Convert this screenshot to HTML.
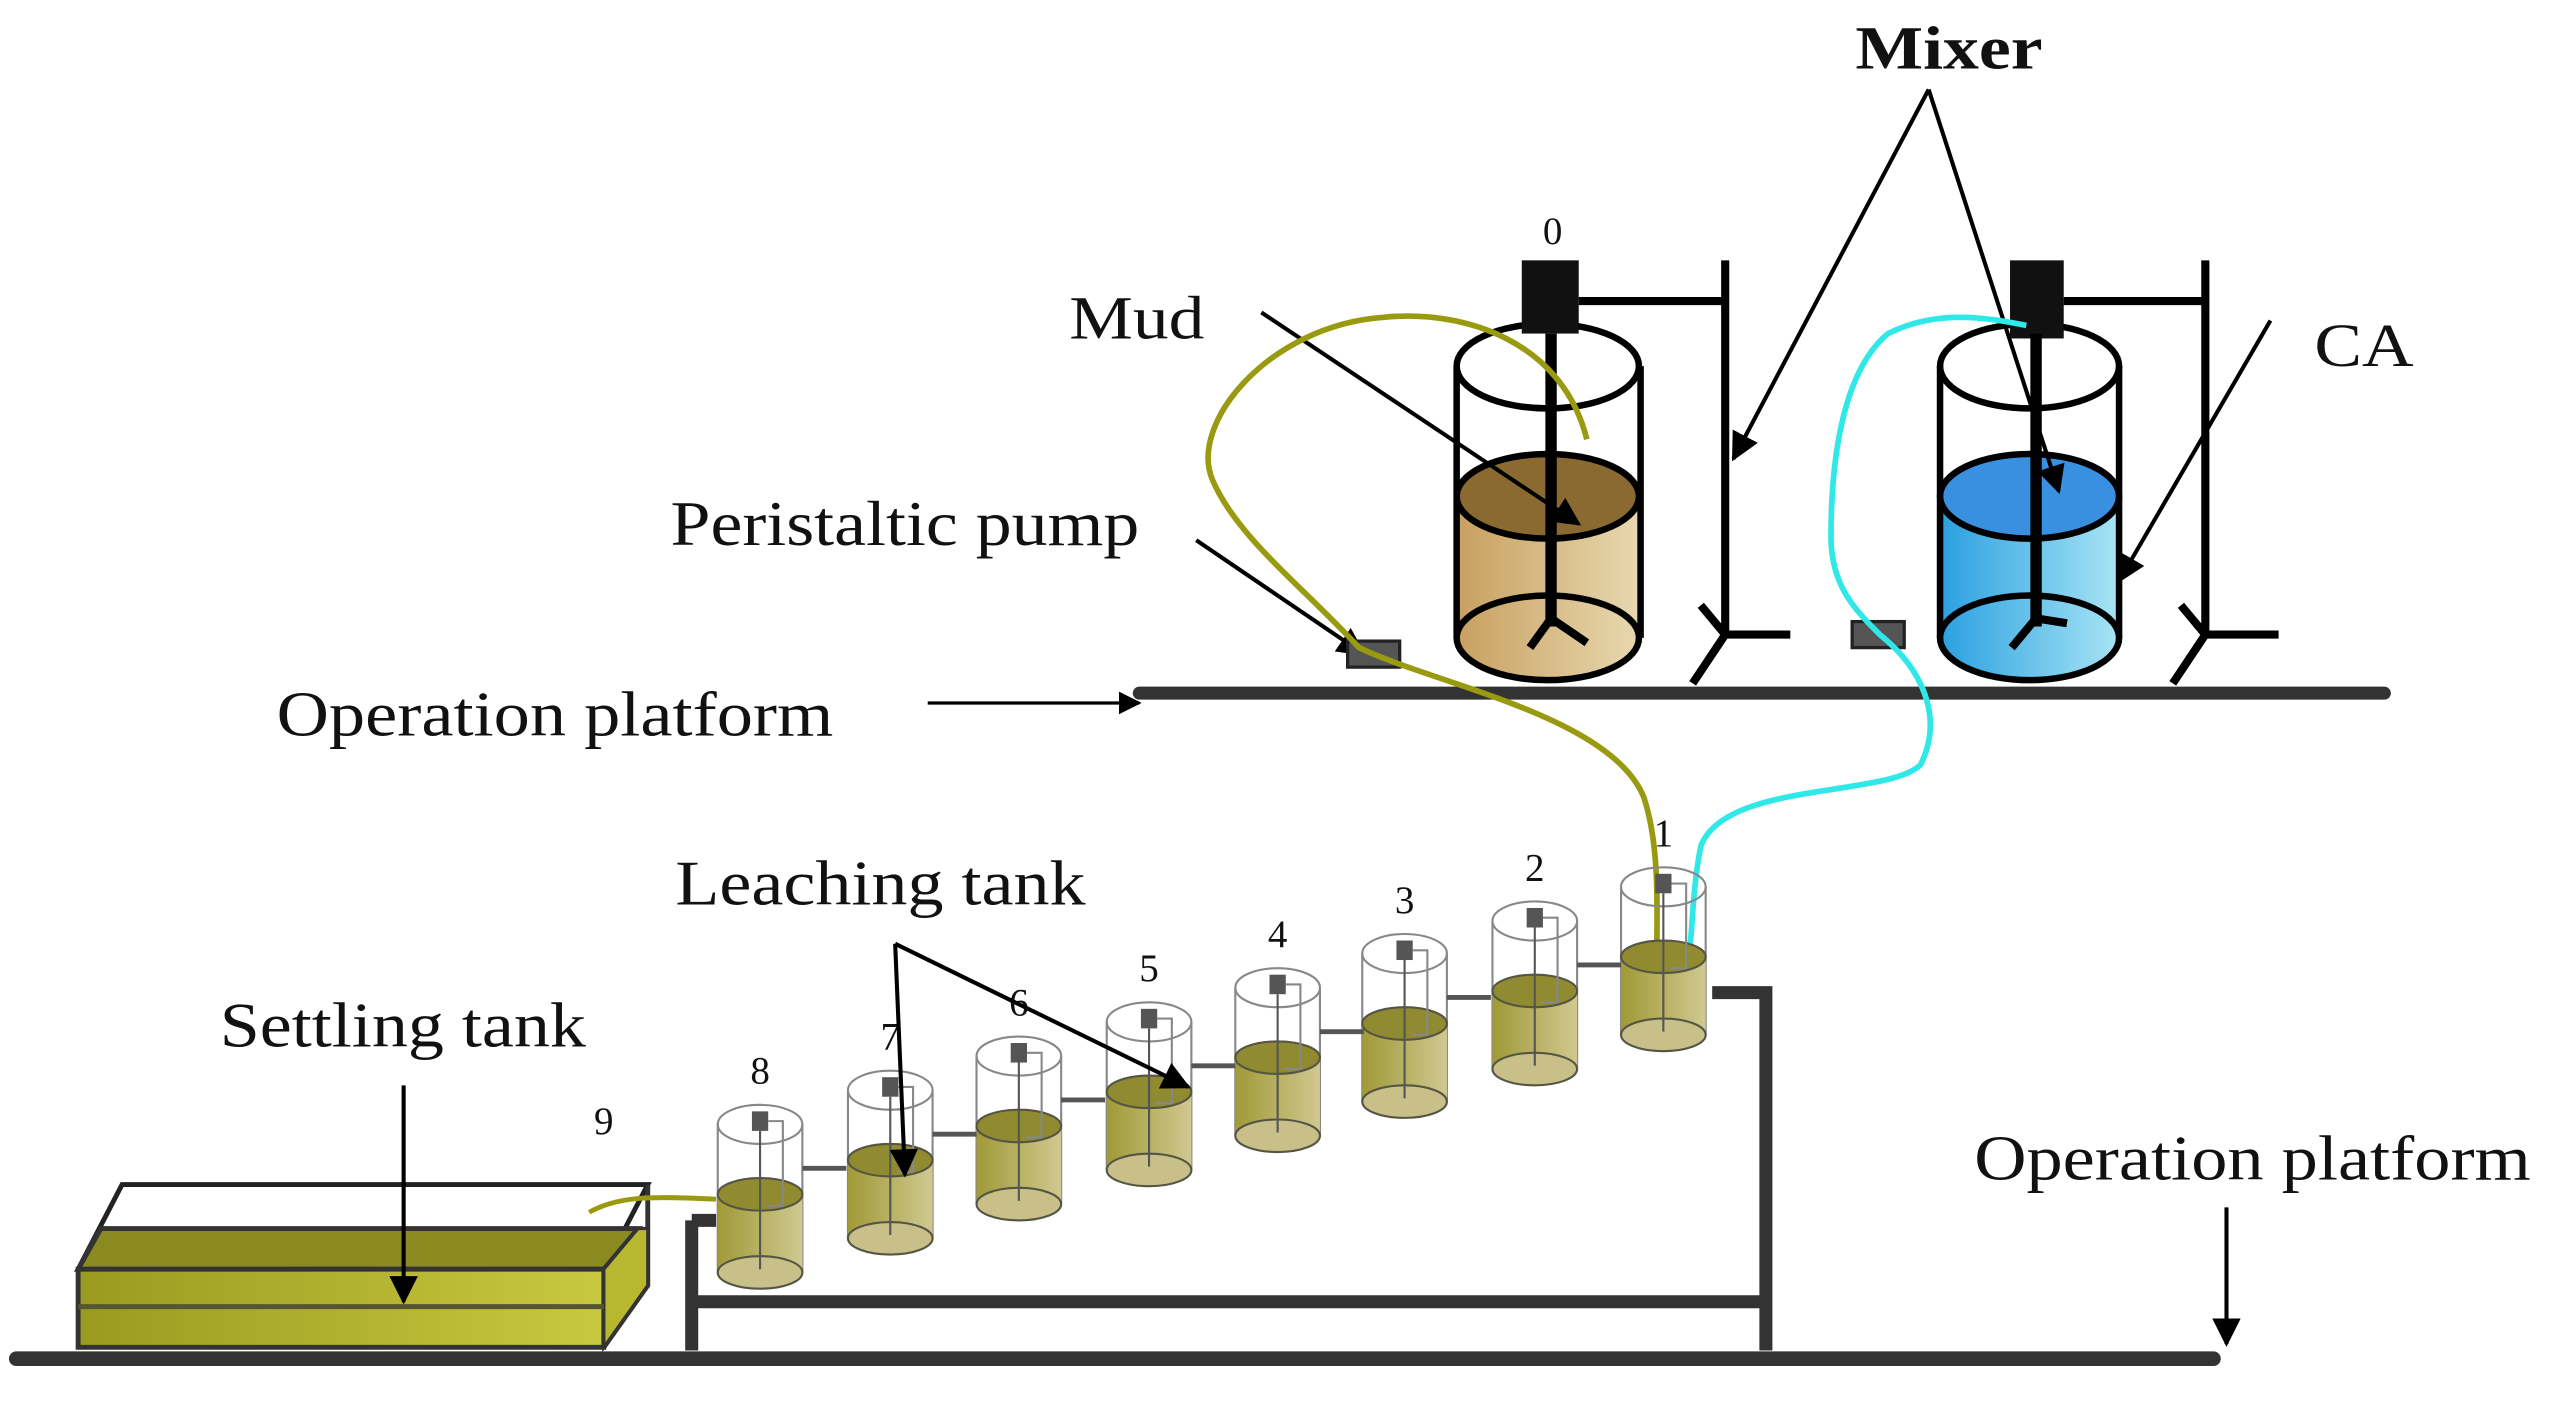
<!DOCTYPE html>
<html><head><meta charset="utf-8"><style>
html,body{margin:0;padding:0;background:#fff;}
svg{display:block;}
text{font-family:"Liberation Serif",serif;fill:#111;}
</style></head><body>
<svg width="2552" height="1401" viewBox="0 0 1568 861" preserveAspectRatio="none" xmlns="http://www.w3.org/2000/svg">
<defs>
<marker id="ah" viewBox="0 0 10 10" refX="9" refY="5" markerWidth="7" markerHeight="7" orient="auto-start-reverse"><path d="M0,0 L10,5 L0,10 z" fill="#000"/></marker>
<linearGradient id="mud" x1="0" x2="1"><stop offset="0" stop-color="#c8a060"/><stop offset="1" stop-color="#e8d8b0"/></linearGradient>
<linearGradient id="ca" x1="0" x2="1"><stop offset="0" stop-color="#2aa0e0"/><stop offset="1" stop-color="#a8e4f4"/></linearGradient>
<linearGradient id="ol" x1="0" x2="1"><stop offset="0" stop-color="#a09a38"/><stop offset="1" stop-color="#d0c890"/></linearGradient>
<linearGradient id="st" x1="0" x2="1"><stop offset="0" stop-color="#9a9a20"/><stop offset="1" stop-color="#c8c840"/></linearGradient>
</defs>

<text x="1140" y="42" font-size="38" font-weight="bold" textLength="115" lengthAdjust="spacingAndGlyphs">Mixer</text>
<text x="948" y="150" font-size="24">0</text>
<text x="657" y="208" font-size="38" textLength="83" lengthAdjust="spacingAndGlyphs">Mud</text>
<text x="1422" y="225" font-size="38" textLength="61" lengthAdjust="spacingAndGlyphs">CA</text>
<text x="412" y="335" font-size="39" textLength="288" lengthAdjust="spacingAndGlyphs">Peristaltic pump</text>
<text x="170" y="452" font-size="39" textLength="342" lengthAdjust="spacingAndGlyphs">Operation platform</text>
<text x="415" y="556" font-size="39" textLength="252" lengthAdjust="spacingAndGlyphs">Leaching tank</text>
<text x="135" y="643" font-size="39" textLength="225" lengthAdjust="spacingAndGlyphs">Settling tank</text>
<text x="1213" y="725" font-size="39" textLength="342" lengthAdjust="spacingAndGlyphs">Operation platform</text>
<text x="365" y="697" font-size="24">9</text>

<line x1="700" y1="426" x2="1465" y2="426" stroke="#333" stroke-width="8" stroke-linecap="round"/>
<line x1="570" y1="432" x2="700" y2="432" stroke="#000" stroke-width="2" marker-end="url(#ah)"/>

<rect x="895" y="305" width="113" height="87" fill="url(#mud)"/>
<ellipse cx="951" cy="392" rx="56" ry="26" fill="url(#mud)" stroke="#000" stroke-width="4"/>
<ellipse cx="951" cy="305" rx="56" ry="26" fill="#8a6a30" stroke="#000" stroke-width="4"/>
<ellipse cx="951" cy="225" rx="56" ry="26" fill="none" stroke="#000" stroke-width="4"/>
<line x1="895" y1="225" x2="895" y2="392" stroke="#000" stroke-width="4"/>
<line x1="1008" y1="225" x2="1008" y2="392" stroke="#000" stroke-width="4"/>
<rect x="935" y="160" width="35" height="45" fill="#111"/>
<line x1="953" y1="205" x2="953" y2="385" stroke="#000" stroke-width="7"/>
<path d="M940,398 L953,380 L975,395 M953,380 L953,370" stroke="#000" stroke-width="5" fill="none"/>
<path d="M970,185 H1060 M1060,160 V390 M1060,390 H1100 M1060,390 L1040,420 M1045,372 L1060,390" stroke="#000" stroke-width="5" fill="none"/>

<rect x="1192" y="305" width="110" height="87" fill="url(#ca)"/>
<ellipse cx="1247" cy="392" rx="55" ry="26" fill="url(#ca)" stroke="#000" stroke-width="4"/>
<ellipse cx="1247" cy="305" rx="55" ry="26" fill="#3a90e0" stroke="#000" stroke-width="4"/>
<ellipse cx="1247" cy="225" rx="55" ry="26" fill="none" stroke="#000" stroke-width="4"/>
<line x1="1192" y1="225" x2="1192" y2="392" stroke="#000" stroke-width="4"/>
<line x1="1302" y1="225" x2="1302" y2="392" stroke="#000" stroke-width="4"/>
<rect x="1235" y="160" width="33" height="48" fill="#111"/>
<line x1="1251" y1="205" x2="1251" y2="385" stroke="#000" stroke-width="7"/>
<path d="M1236,398 L1251,380 L1270,383" stroke="#000" stroke-width="5" fill="none"/>
<path d="M1268,185 H1355 M1355,160 V390 M1355,390 H1400 M1355,390 L1335,420 M1340,372 L1355,390" stroke="#000" stroke-width="5" fill="none"/>

<line x1="1185" y1="55" x2="1065" y2="282" stroke="#000" stroke-width="2.5" marker-end="url(#ah)"/>
<line x1="1185" y1="55" x2="1265" y2="302" stroke="#000" stroke-width="2.5" marker-end="url(#ah)"/>
<line x1="775" y1="192" x2="970" y2="322" stroke="#000" stroke-width="2.5" marker-end="url(#ah)"/>
<line x1="1395" y1="197" x2="1302" y2="357" stroke="#000" stroke-width="2.5" marker-end="url(#ah)"/>
<line x1="735" y1="332" x2="838" y2="402" stroke="#000" stroke-width="2.5" marker-end="url(#ah)"/>

<rect x="828" y="394" width="32" height="16" fill="#555" stroke="#222" stroke-width="2"/>
<rect x="1138" y="382" width="32" height="16" fill="#555" stroke="#222" stroke-width="2"/>

<path d="M975,270 C960,210 900,190 850,195 C780,200 730,260 745,295 C760,330 800,360 835,398 C880,420 990,440 1010,490 C1020,520 1018,560 1018,585" stroke="#9a9a10" stroke-width="3.5" fill="none"/>
<path d="M1245,200 C1220,195 1190,190 1160,205 C1130,230 1125,290 1125,330 C1125,360 1140,375 1155,390 C1180,410 1195,440 1180,470 C1160,490 1060,480 1045,520 C1040,545 1040,570 1038,585" stroke="#30e8e8" stroke-width="3.5" fill="none"/>

<path d="M1052,610 H1085 V830 M425,800 H1085 M425,750 V830 M425,750 H440" stroke="#333" stroke-width="8" fill="none"/>
<line x1="10" y1="835" x2="1360" y2="835" stroke="#333" stroke-width="9" stroke-linecap="round"/>
<line x1="1368" y1="742" x2="1368" y2="826" stroke="#000" stroke-width="2.5" marker-end="url(#ah)"/>

<!-- settling tank -->
<path d="M48,780 L75,728 H398 L371,780 Z" fill="none" stroke="#222" stroke-width="3"/>
<path d="M48,780 L62,755 H392 L371,780 Z" fill="#8a8a20" stroke="#333" stroke-width="3"/>
<rect x="48" y="780" width="323" height="48" fill="url(#st)" stroke="#333" stroke-width="3"/>
<path d="M371,828 L398,790 V728" fill="none" stroke="#333" stroke-width="3"/>
<path d="M371,780 L392,755 L398,755 V790 L371,828Z" fill="#b8b830" stroke="#333" stroke-width="2"/>
<line x1="48" y1="803" x2="371" y2="803" stroke="#553" stroke-width="3"/>
<line x1="248" y1="667" x2="248" y2="800" stroke="#000" stroke-width="2.5" marker-end="url(#ah)"/>
<path d="M362,745 C380,735 400,735 440,737" stroke="#9a9a10" stroke-width="3" fill="none"/>

<g stroke-width="1.3">
<g transform="translate(1022,0)"><line x1="-26" y1="545" x2="-26" y2="636" stroke="#888"/><line x1="26" y1="545" x2="26" y2="636" stroke="#888"/><ellipse cx="0" cy="545" rx="26" ry="12" fill="none" stroke="#888"/><rect x="-26" y="588" width="52" height="48" fill="url(#ol)"/><ellipse cx="0" cy="636" rx="26" ry="10" fill="#c8c088" stroke="#554"/><ellipse cx="0" cy="588" rx="26" ry="10" fill="#908a30" stroke="#554"/><rect x="-5" y="537" width="10" height="12" fill="#555"/><line x1="0" y1="549" x2="0" y2="634" stroke="#555"/><path d="M5,543 H14 V595 H4" fill="none" stroke="#888"/><text x="-6" y="520" font-size="24" stroke="none">1</text></g>
<g transform="translate(943,21)"><line x1="-26" y1="545" x2="-26" y2="636" stroke="#888"/><line x1="26" y1="545" x2="26" y2="636" stroke="#888"/><ellipse cx="0" cy="545" rx="26" ry="12" fill="none" stroke="#888"/><rect x="-26" y="588" width="52" height="48" fill="url(#ol)"/><ellipse cx="0" cy="636" rx="26" ry="10" fill="#c8c088" stroke="#554"/><ellipse cx="0" cy="588" rx="26" ry="10" fill="#908a30" stroke="#554"/><rect x="-5" y="537" width="10" height="12" fill="#555"/><line x1="0" y1="549" x2="0" y2="634" stroke="#555"/><path d="M5,543 H14 V595 H4" fill="none" stroke="#888"/><line x1="26" y1="572" x2="53" y2="572" stroke="#555" stroke-width="3"/><text x="-6" y="520" font-size="24" stroke="none">2</text></g>
<g transform="translate(863,41)"><line x1="-26" y1="545" x2="-26" y2="636" stroke="#888"/><line x1="26" y1="545" x2="26" y2="636" stroke="#888"/><ellipse cx="0" cy="545" rx="26" ry="12" fill="none" stroke="#888"/><rect x="-26" y="588" width="52" height="48" fill="url(#ol)"/><ellipse cx="0" cy="636" rx="26" ry="10" fill="#c8c088" stroke="#554"/><ellipse cx="0" cy="588" rx="26" ry="10" fill="#908a30" stroke="#554"/><rect x="-5" y="537" width="10" height="12" fill="#555"/><line x1="0" y1="549" x2="0" y2="634" stroke="#555"/><path d="M5,543 H14 V595 H4" fill="none" stroke="#888"/><line x1="26" y1="572" x2="53" y2="572" stroke="#555" stroke-width="3"/><text x="-6" y="520" font-size="24" stroke="none">3</text></g>
<g transform="translate(785,62)"><line x1="-26" y1="545" x2="-26" y2="636" stroke="#888"/><line x1="26" y1="545" x2="26" y2="636" stroke="#888"/><ellipse cx="0" cy="545" rx="26" ry="12" fill="none" stroke="#888"/><rect x="-26" y="588" width="52" height="48" fill="url(#ol)"/><ellipse cx="0" cy="636" rx="26" ry="10" fill="#c8c088" stroke="#554"/><ellipse cx="0" cy="588" rx="26" ry="10" fill="#908a30" stroke="#554"/><rect x="-5" y="537" width="10" height="12" fill="#555"/><line x1="0" y1="549" x2="0" y2="634" stroke="#555"/><path d="M5,543 H14 V595 H4" fill="none" stroke="#888"/><line x1="26" y1="572" x2="53" y2="572" stroke="#555" stroke-width="3"/><text x="-6" y="520" font-size="24" stroke="none">4</text></g>
<g transform="translate(706,83)"><line x1="-26" y1="545" x2="-26" y2="636" stroke="#888"/><line x1="26" y1="545" x2="26" y2="636" stroke="#888"/><ellipse cx="0" cy="545" rx="26" ry="12" fill="none" stroke="#888"/><rect x="-26" y="588" width="52" height="48" fill="url(#ol)"/><ellipse cx="0" cy="636" rx="26" ry="10" fill="#c8c088" stroke="#554"/><ellipse cx="0" cy="588" rx="26" ry="10" fill="#908a30" stroke="#554"/><rect x="-5" y="537" width="10" height="12" fill="#555"/><line x1="0" y1="549" x2="0" y2="634" stroke="#555"/><path d="M5,543 H14 V595 H4" fill="none" stroke="#888"/><line x1="26" y1="572" x2="53" y2="572" stroke="#555" stroke-width="3"/><text x="-6" y="520" font-size="24" stroke="none">5</text></g>
<g transform="translate(626,104)"><line x1="-26" y1="545" x2="-26" y2="636" stroke="#888"/><line x1="26" y1="545" x2="26" y2="636" stroke="#888"/><ellipse cx="0" cy="545" rx="26" ry="12" fill="none" stroke="#888"/><rect x="-26" y="588" width="52" height="48" fill="url(#ol)"/><ellipse cx="0" cy="636" rx="26" ry="10" fill="#c8c088" stroke="#554"/><ellipse cx="0" cy="588" rx="26" ry="10" fill="#908a30" stroke="#554"/><rect x="-5" y="537" width="10" height="12" fill="#555"/><line x1="0" y1="549" x2="0" y2="634" stroke="#555"/><path d="M5,543 H14 V595 H4" fill="none" stroke="#888"/><line x1="26" y1="572" x2="53" y2="572" stroke="#555" stroke-width="3"/><text x="-6" y="520" font-size="24" stroke="none">6</text></g>
<g transform="translate(547,125)"><line x1="-26" y1="545" x2="-26" y2="636" stroke="#888"/><line x1="26" y1="545" x2="26" y2="636" stroke="#888"/><ellipse cx="0" cy="545" rx="26" ry="12" fill="none" stroke="#888"/><rect x="-26" y="588" width="52" height="48" fill="url(#ol)"/><ellipse cx="0" cy="636" rx="26" ry="10" fill="#c8c088" stroke="#554"/><ellipse cx="0" cy="588" rx="26" ry="10" fill="#908a30" stroke="#554"/><rect x="-5" y="537" width="10" height="12" fill="#555"/><line x1="0" y1="549" x2="0" y2="634" stroke="#555"/><path d="M5,543 H14 V595 H4" fill="none" stroke="#888"/><line x1="26" y1="572" x2="53" y2="572" stroke="#555" stroke-width="3"/><text x="-6" y="520" font-size="24" stroke="none">7</text></g>
<g transform="translate(467,146)"><line x1="-26" y1="545" x2="-26" y2="636" stroke="#888"/><line x1="26" y1="545" x2="26" y2="636" stroke="#888"/><ellipse cx="0" cy="545" rx="26" ry="12" fill="none" stroke="#888"/><rect x="-26" y="588" width="52" height="48" fill="url(#ol)"/><ellipse cx="0" cy="636" rx="26" ry="10" fill="#c8c088" stroke="#554"/><ellipse cx="0" cy="588" rx="26" ry="10" fill="#908a30" stroke="#554"/><rect x="-5" y="537" width="10" height="12" fill="#555"/><line x1="0" y1="549" x2="0" y2="634" stroke="#555"/><path d="M5,543 H14 V595 H4" fill="none" stroke="#888"/><line x1="26" y1="572" x2="53" y2="572" stroke="#555" stroke-width="3"/><text x="-6" y="520" font-size="24" stroke="none">8</text></g>
</g>

<line x1="550" y1="580" x2="556" y2="722" stroke="#000" stroke-width="2.5" marker-end="url(#ah)"/>
<line x1="550" y1="580" x2="730" y2="668" stroke="#000" stroke-width="2.5" marker-end="url(#ah)"/>
</svg>
</body></html>
